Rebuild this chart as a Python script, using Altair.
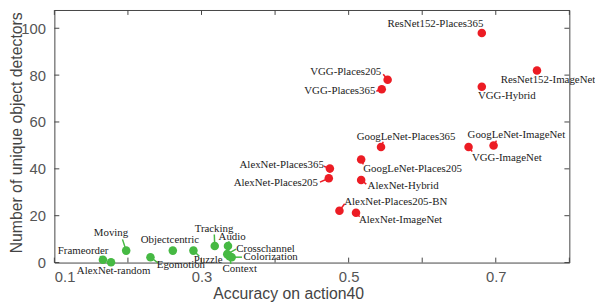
import altair as alt
import pandas as pd

names = ["ResNet152-Places365", "ResNet152-ImageNet", "VGG-Places205", "VGG-Places365",
         "VGG-Hybrid", "GoogLeNet-Places365", "GoogLeNet-ImageNet", "VGG-ImageNet",
         "GoogLeNet-Places205", "AlexNet-Places365", "AlexNet-Places205", "AlexNet-Hybrid",
         "AlexNet-Places205-BN", "AlexNet-ImageNet",
         "Frameorder", "AlexNet-random", "Moving", "Egomotion", "Objectcentric", "Puzzle",
         "Tracking", "Audio", "Crosschannel", "Colorization", "Context"]
accuracy = [0.681, 0.756, 0.553, 0.545, 0.681, 0.544, 0.697, 0.663, 0.517, 0.4745, 0.473,
            0.517, 0.4875, 0.510,
            0.166, 0.177, 0.1976, 0.2306, 0.261, 0.289, 0.318, 0.336, 0.335, 0.341, 0.338]
detectors = [98, 82, 78, 74, 75, 49.3, 50, 49.3, 44, 40.1, 36, 35.2, 22.1, 21.3,
             1.2, 0.1, 5.1, 2.3, 5.1, 5.1, 7.1, 7.1, 3.6, 2.3, 2.7]
group = ["supervised"] * 14 + ["self"] * 11

# label anchor (text centre) in data units
label_x = [0.618, 0.771, 0.496, 0.488, 0.715, 0.578, 0.728, 0.715, 0.587, 0.409, 0.401,
           0.574, 0.564, 0.5705,
           0.139, 0.1805, 0.177, 0.272, 0.257, 0.309, 0.317, 0.3416, 0.387, 0.394, 0.352]
label_y = [101.7, 78.1, 81.5, 73.1, 70.9, 53.7, 54.5, 44.8, 39.8, 41.5, 33.9, 32.6, 25.9,
           18.3, 4.8, -3.6, 12.4, -1.1, 9.5, 1.1, 14.5, 10.7, 5.7, 2.3, -2.7]
# leader line end in data units
lead_x = [0.681, 0.756, 0.547, 0.5376, 0.681, 0.547, 0.701, 0.668, 0.520, 0.4664, 0.461,
          0.524, 0.4946, 0.515,
          0.162, 0.177, 0.1926, 0.241, 0.261, 0.297, 0.3174, 0.3376, 0.347, 0.355, 0.340]
lead_y = [98, 82, 80.4, 73.1, 75, 51.6, 52, 47.4, 41.9, 41.1, 34.3, 33.5, 25.1, 19.6,
          2.7, 0.1, 9.9, -0.2, 5.1, 2.7, 12, 9.1, 5.7, 2.3, -0.6]

x_ticks = [0.1, 0.2, 0.3, 0.4, 0.5, 0.6, 0.7, 0.8]
y_ticks = [0, 20, 40, 60, 80, 100]

df = pd.DataFrame({"name": names, "acc": accuracy, "det": detectors, "group": group,
                   "lx": label_x, "ly": label_y, "ex": lead_x, "ey": lead_y})
dfx = pd.DataFrame({"v": x_ticks})
dfy = pd.DataFrame({"v": y_ticks})

W, H = 522, 256
xs = alt.Scale(domain=[0.1, 0.8], zero=False, nice=False)
ys = alt.Scale(domain=[0, H / 2.375], zero=False, nice=False)
cs = alt.Scale(domain=["supervised", "self"], range=["#ec1c24", "#46b943"])

xaxis = alt.Axis(values=x_ticks, format=".1f", ticks=False, domain=False, grid=False,
                 labelExpr="(round(datum.value*10) % 2 == 1) ? datum.label : ''",
                 labelFont="Liberation Sans", labelFontSize=15, labelColor="#555",
                 labelPadding=7, title="Accuracy on action40", titleFont="Liberation Sans",
                 titleFontSize=16, titleFontWeight="normal", titleColor="#444",
                 titleX=237, titleY=31, titleBaseline="middle")
yaxis = alt.Axis(values=y_ticks, ticks=False, domain=False, grid=False,
                 labelFont="Liberation Sans", labelFontSize=15, labelColor="#555",
                 labelPadding=9, title="Number of unique object detectors",
                 titleFont="Liberation Sans", titleFontSize=16, titleFontWeight="normal",
                 titleColor="#444", titleX=-38, titleY=124, titleAngle=270,
                 titleBaseline="middle")

base = alt.Chart(df)

leaders = base.mark_rule(strokeWidth=1.5).encode(
    x=alt.X("acc:Q", scale=xs, axis=xaxis),
    y=alt.Y("det:Q", scale=ys, axis=yaxis),
    x2="ex:Q", y2="ey:Q",
    color=alt.Color("group:N", scale=cs, legend=None),
)
points = base.mark_circle(size=75, opacity=1).encode(
    x=alt.X("acc:Q", scale=xs),
    y=alt.Y("det:Q", scale=ys),
    color=alt.Color("group:N", scale=cs, legend=None),
)
texts = base.mark_text(font="Liberation Serif", fontSize=11, color="#222",
                       align="center", baseline="middle").encode(
    x=alt.X("lx:Q", scale=xs),
    y=alt.Y("ly:Q", scale=ys),
    text="name:N",
)

tk = dict(color="#444", strokeWidth=1)
xt_bottom = alt.Chart(dfx).mark_rule(**tk).encode(
    x=alt.X("v:Q", scale=xs), y=alt.value(H), y2=alt.value(H - 5))
xt_top = alt.Chart(dfx).mark_rule(**tk).encode(
    x=alt.X("v:Q", scale=xs), y=alt.value(0), y2=alt.value(5))
yt_left = alt.Chart(dfy).mark_rule(**tk).encode(
    y=alt.Y("v:Q", scale=ys), x=alt.value(0), x2=alt.value(5))
yt_right = alt.Chart(dfy).mark_rule(**tk).encode(
    y=alt.Y("v:Q", scale=ys), x=alt.value(W), x2=alt.value(W - 5))

chart = alt.layer(leaders, points, texts, xt_bottom, xt_top, yt_left, yt_right).properties(
    width=W, height=H,
    autosize=alt.AutoSizeParams(type="none"),
    padding={"left": 47, "top": 0, "right": 26, "bottom": 42},
).configure_view(stroke="#444", strokeWidth=1)

chart.save("out.html", embed_options={"renderer": "svg", "actions": False})
